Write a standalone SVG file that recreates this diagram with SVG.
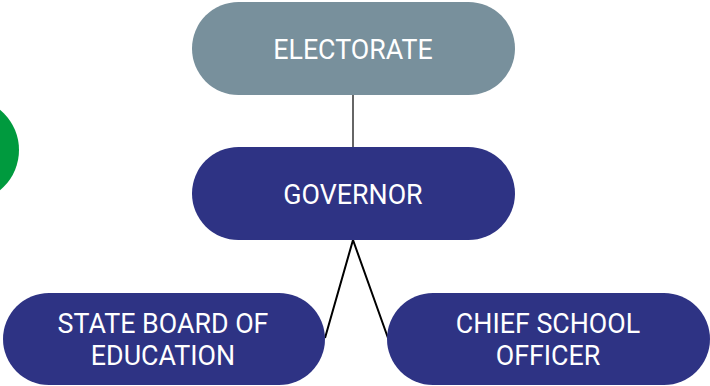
<svg xmlns="http://www.w3.org/2000/svg" width="710" height="386" viewBox="0 0 710 386">
<style>
.lbl{font-family:Roboto,"Liberation Sans",sans-serif;font-size:26.8px;fill:#ffffff;text-anchor:middle}
.navy{fill:#2E3384}
</style>
<rect width="710" height="386" fill="#ffffff"/>
<circle cx="-33" cy="150" r="52" fill="#009A3E"/>
<g id="connectors" fill="none">
<line x1="353" y1="95" x2="353" y2="147" stroke="#666666" stroke-width="2"/>
<polyline points="325,338 353,240 388,338" stroke="#000000" stroke-width="2"/>
</g>
<g id="electorate">
<rect x="192" y="2" width="323" height="93" rx="46.5" fill="#78909C"/>
<text class="lbl" x="353" y="59">ELECTORATE</text>
</g>
<g id="governor">
<rect class="navy" x="192" y="147" width="323" height="93" rx="46.5"/>
<text class="lbl" x="353" y="204">GOVERNOR</text>
</g>
<g id="state-board">
<rect class="navy" x="3" y="293" width="322" height="92" rx="46"/>
<text class="lbl" x="163" y="333">STATE BOARD OF</text>
<text class="lbl" x="163" y="365">EDUCATION</text>
</g>
<g id="chief-school-officer">
<rect class="navy" x="387" y="293" width="323" height="92" rx="46"/>
<text class="lbl" x="548" y="333">CHIEF SCHOOL</text>
<text class="lbl" x="548" y="365">OFFICER</text>
</g>
</svg>
